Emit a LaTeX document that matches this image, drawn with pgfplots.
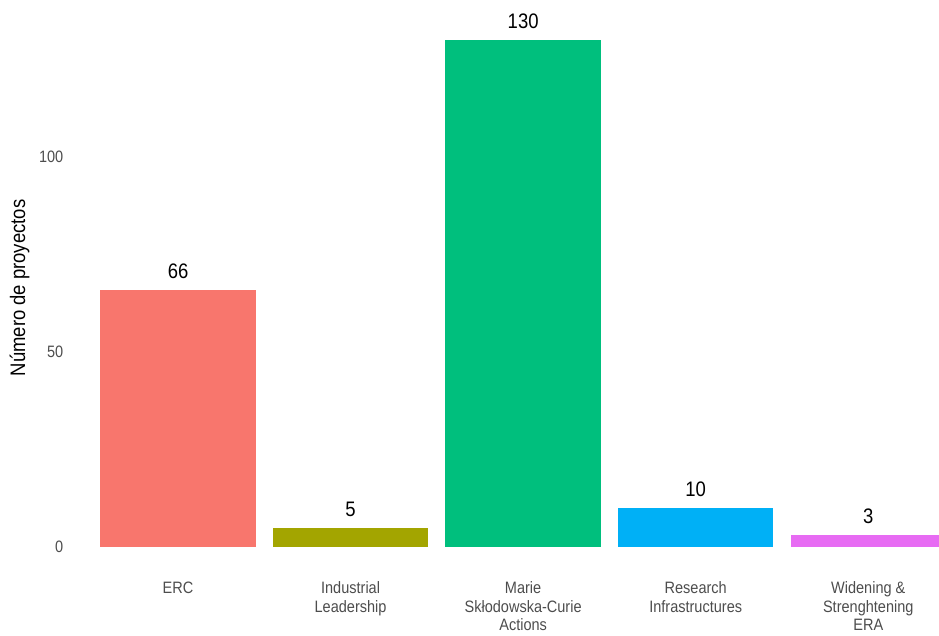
\documentclass[border=0pt]{standalone}
\usepackage{fontspec}
\setmainfont{Liberation Sans}[FakeStretch=0.88]
\usepackage{pgfplots}
\pgfplotsset{compat=1.18}

\definecolor{cERC}{HTML}{F8766D}
\definecolor{cIL}{HTML}{A3A500}
\definecolor{cMS}{HTML}{00BF7D}
\definecolor{cRI}{HTML}{00B0F6}
\definecolor{cWE}{HTML}{E76BF3}
\definecolor{tickgray}{HTML}{4D4D4D}

\begin{document}
\begin{tikzpicture}
  \begin{axis}[
    scale only axis,
    width=864.5bp, height=557.8bp,
    xmin=0.4, xmax=5.41,
    ymin=-6.5, ymax=136.5,
    ybar, bar width=0.9, bar shift=0pt,
    axis line style={draw=none},
    tick style={draw=none},
    major tick length=0pt,
    xtick={1,2,3,4,5},
    xticklabels={ERC, Industrial\\Leadership, Marie\\Skłodowska-Curie\\Actions,
                 Research\\Infrastructures, Widening \&\\Strenghtening\\ERA},
    ytick={0,50,100},
    /pgf/number format/assume math mode=true,
    xticklabel style={font=\fontsize{16.5bp}{18.5bp}\selectfont, text=tickgray,
                      align=center, inner sep=0pt, anchor=north, yshift=-9bp},
    yticklabel style={font=\fontsize{16.5bp}{19bp}\selectfont, text=tickgray,
                      inner sep=0pt, anchor=east, xshift=-11bp},
    ylabel={Número de proyectos},
    every axis y label/.style={at={(rel axis cs:-0.0636,0.51)}, rotate=90, anchor=center,
                               font=\fontsize{21bp}{24bp}\selectfont},
    nodes near coords,
    nodes near coords style={font=\fontsize{21bp}{24bp}\selectfont, text=black,
                             anchor=south, inner sep=0pt, yshift=11bp},
  ]
    \addplot[fill=cERC, draw=none] coordinates {(1,66)};
    \addplot[fill=cIL, draw=none] coordinates {(2,5)};
    \addplot[fill=cMS, draw=none] coordinates {(3,130)};
    \addplot[fill=cRI, draw=none] coordinates {(4,10)};
    \addplot[fill=cWE, draw=none] coordinates {(5,3)};
    \coordinate (sw) at (rel axis cs:0,0);
  \end{axis}
  \pgfresetboundingbox
  \path ([shift={(-74.5bp,-63.6bp)}]sw) rectangle ++(939bp,636bp);
\end{tikzpicture}
\end{document}
